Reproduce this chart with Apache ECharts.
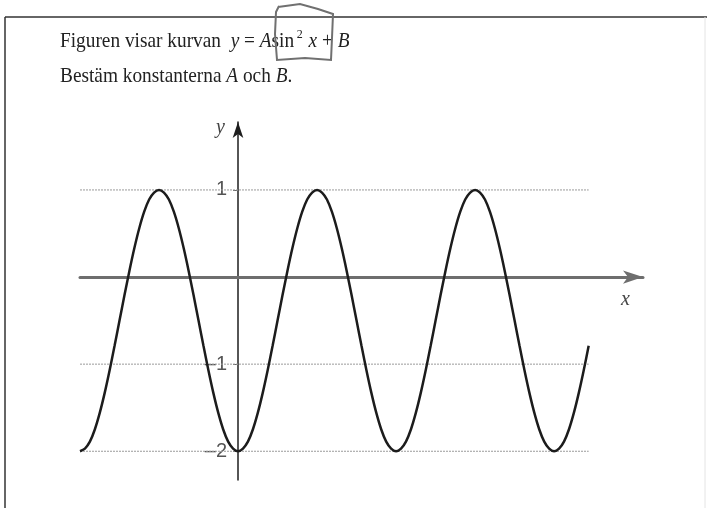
<!DOCTYPE html>
<html>
<head>
<meta charset="utf-8">
<script src="https://cdn.jsdelivr.net/npm/echarts@6/dist/echarts.min.js"></script>
<style>
  html, body { margin: 0; padding: 0; background: #fff; }
  #main { width: 707px; height: 508px; }
</style>
</head>
<body>
<div id="main"></div>
<script>
const curveX = [
  -32, -31, -30, -29, -28, -27, -26, -25, -24, -23, -22, -21, -20, -19, -18, -17,
  -16, -15, -14, -13, -12, -11, -10, -9, -8, -7, -6, -5, -4, -3, -2, -1,
  0, 1, 2, 3, 4, 5, 6, 7, 8, 9, 10, 11, 12, 13, 14, 15,
  16, 17, 18, 19, 20, 21, 22, 23, 24, 25, 26, 27, 28, 29, 30, 31,
  32, 33, 34, 35, 36, 37, 38, 39, 40, 41, 42, 43, 44, 45, 46, 47,
  48, 49, 50, 51, 52, 53, 54, 55, 56, 57, 58, 59, 60, 61, 62, 63,
  64, 65, 66, 67, 68, 69, 70, 71]
const curveY = [
  -2, -1.97, -1.89, -1.75, -1.56, -1.33, -1.07, -0.79, -0.5, -0.21, 0.07, 0.33, 0.56, 0.75, 0.89, 0.97,
  1, 0.97, 0.89, 0.75, 0.56, 0.33, 0.07, -0.21, -0.5, -0.79, -1.07, -1.33, -1.56, -1.75, -1.89, -1.97,
  -2, -1.97, -1.89, -1.75, -1.56, -1.33, -1.07, -0.79, -0.5, -0.21, 0.07, 0.33, 0.56, 0.75, 0.89, 0.97,
  1, 0.97, 0.89, 0.75, 0.56, 0.33, 0.07, -0.21, -0.5, -0.79, -1.07, -1.33, -1.56, -1.75, -1.89, -1.97,
  -2, -1.97, -1.89, -1.75, -1.56, -1.33, -1.07, -0.79, -0.5, -0.21, 0.07, 0.33, 0.56, 0.75, 0.89, 0.97,
  1, 0.97, 0.89, 0.75, 0.56, 0.33, 0.07, -0.21, -0.5, -0.79, -1.07, -1.33, -1.56, -1.75, -1.89, -1.97,
  -2, -1.97, -1.89, -1.75, -1.56, -1.33, -1.07, -0.79]
// dotted helper lines
const gridLevels = [1, -1, -2]
const gridFrom = -32
const gridTo = 71
// tick labels on the y axis
const yTicks = [1, -1, -2]

let myChart = echarts.init(document.getElementById('main'))

const serif = 'Liberation Serif'
const squeeze = 0.92 // scan is a bit narrow

let gridSeries = gridLevels.map(function (lv) {
  return {
    type: 'line',
    data: [[gridFrom, lv], [gridTo, lv]],
    symbol: 'none',
    silent: true,
    z: 1,
    lineStyle: { color: '#9a9a9a', width: 1, type: [2, 1] }
  }
})

myChart.setOption({
  animation: false,
  grid: { left: 80, right: 64, top: 122, bottom: 28 },
  xAxis: {
    type: 'value',
    min: -32,
    max: 82,
    axisLine: {
      onZero: true,
      symbol: ['none', 'arrow'],
      symbolSize: [10, 20],
      lineStyle: { color: '#6e6e6e', width: 3 }
    },
    axisTick: { show: false },
    axisLabel: { show: false },
    splitLine: { show: false }
  },
  yAxis: {
    type: 'value',
    position: 'left',
    offset: -158, // sits on x = 0
    min: -2.33,
    max: 1.78,
    axisLine: {
      show: true,
      onZero: false,
      symbol: ['none', 'arrow'],
      symbolSize: [8, 16],
      lineStyle: { color: '#1e1e1e', width: 1.5 }
    },
    axisTick: {
      show: true,
      length: 5,
      customValues: yTicks,
      lineStyle: { color: '#666' }
    },
    axisLabel: {
      customValues: yTicks,
      margin: 11,
      color: '#555',
      fontSize: 20,
      fontFamily: 'Liberation Sans',
      formatter: function (v) {
        return v < 0 ? '\u2013' + Math.abs(v) : String(v)
      }
    },
    splitLine: { show: false }
  },
  graphic: [
    // scanned page frame
    { type: 'line', shape: { x1: 5, y1: 17, x2: 707, y2: 17 },
      style: { stroke: '#333', lineWidth: 1.5 } },
    { type: 'line', shape: { x1: 5, y1: 17, x2: 5, y2: 508 },
      style: { stroke: '#333', lineWidth: 1.5 } },
    { type: 'line', shape: { x1: 705, y1: 17, x2: 705, y2: 508 },
      style: { stroke: '#e4e4e4', lineWidth: 1 } },
    {
      type: 'text', x: 60, y: 28, scaleX: squeeze,
      style: {
        text: '{n|Figuren visar kurvan  }{i|y}{n| = }{i|A}{n|sin}{s|2}{n| }{i|x}{n| + }{i|B}',
        rich: {
          n: { fontFamily: serif, fontSize: 21, fill: '#222', lineHeight: 26 },
          i: { fontFamily: serif, fontSize: 21, fontStyle: 'italic', fill: '#222', lineHeight: 26 },
          s: { fontFamily: serif, fontSize: 13, fill: '#222', verticalAlign: 'top', lineHeight: 26, padding: [0, 1, 0, 3] }
        }
      }
    },
    {
      type: 'text', x: 60, y: 63, scaleX: squeeze,
      style: {
        text: '{n|Bestäm konstanterna }{i|A}{n| och }{i|B}{n|.}',
        rich: {
          n: { fontFamily: serif, fontSize: 21, fill: '#222', lineHeight: 26 },
          i: { fontFamily: serif, fontSize: 21, fontStyle: 'italic', fill: '#222', lineHeight: 26 }
        }
      }
    },
    // pencil box around sin^2 x
    {
      type: 'polyline',
      shape: { points: [[278, 7], [300, 4], [318, 9], [333, 14], [332, 38], [331, 60],
        [305, 58], [277, 60], [275, 34], [276, 12], [279, 6]] },
      style: { stroke: '#707070', lineWidth: 2, fill: null }
    },
    { type: 'text', x: 216, y: 118,
      style: { text: 'y', fontFamily: serif, fontStyle: 'italic', fontSize: 20, fill: '#444' } },
    { type: 'text', x: 621, y: 290,
      style: { text: 'x', fontFamily: serif, fontStyle: 'italic', fontSize: 20, fill: '#444' } }
  ],
  series: gridSeries.concat([
    {
      type: 'line',
      data: curveX.map(function (x, i) { return [x, curveY[i]] }),
      smooth: 0.3,
      symbol: 'none',
      z: 5,
      lineStyle: { color: '#1c1c1c', width: 2.5 }
    }
  ])
})
</script>
</body>
</html>
